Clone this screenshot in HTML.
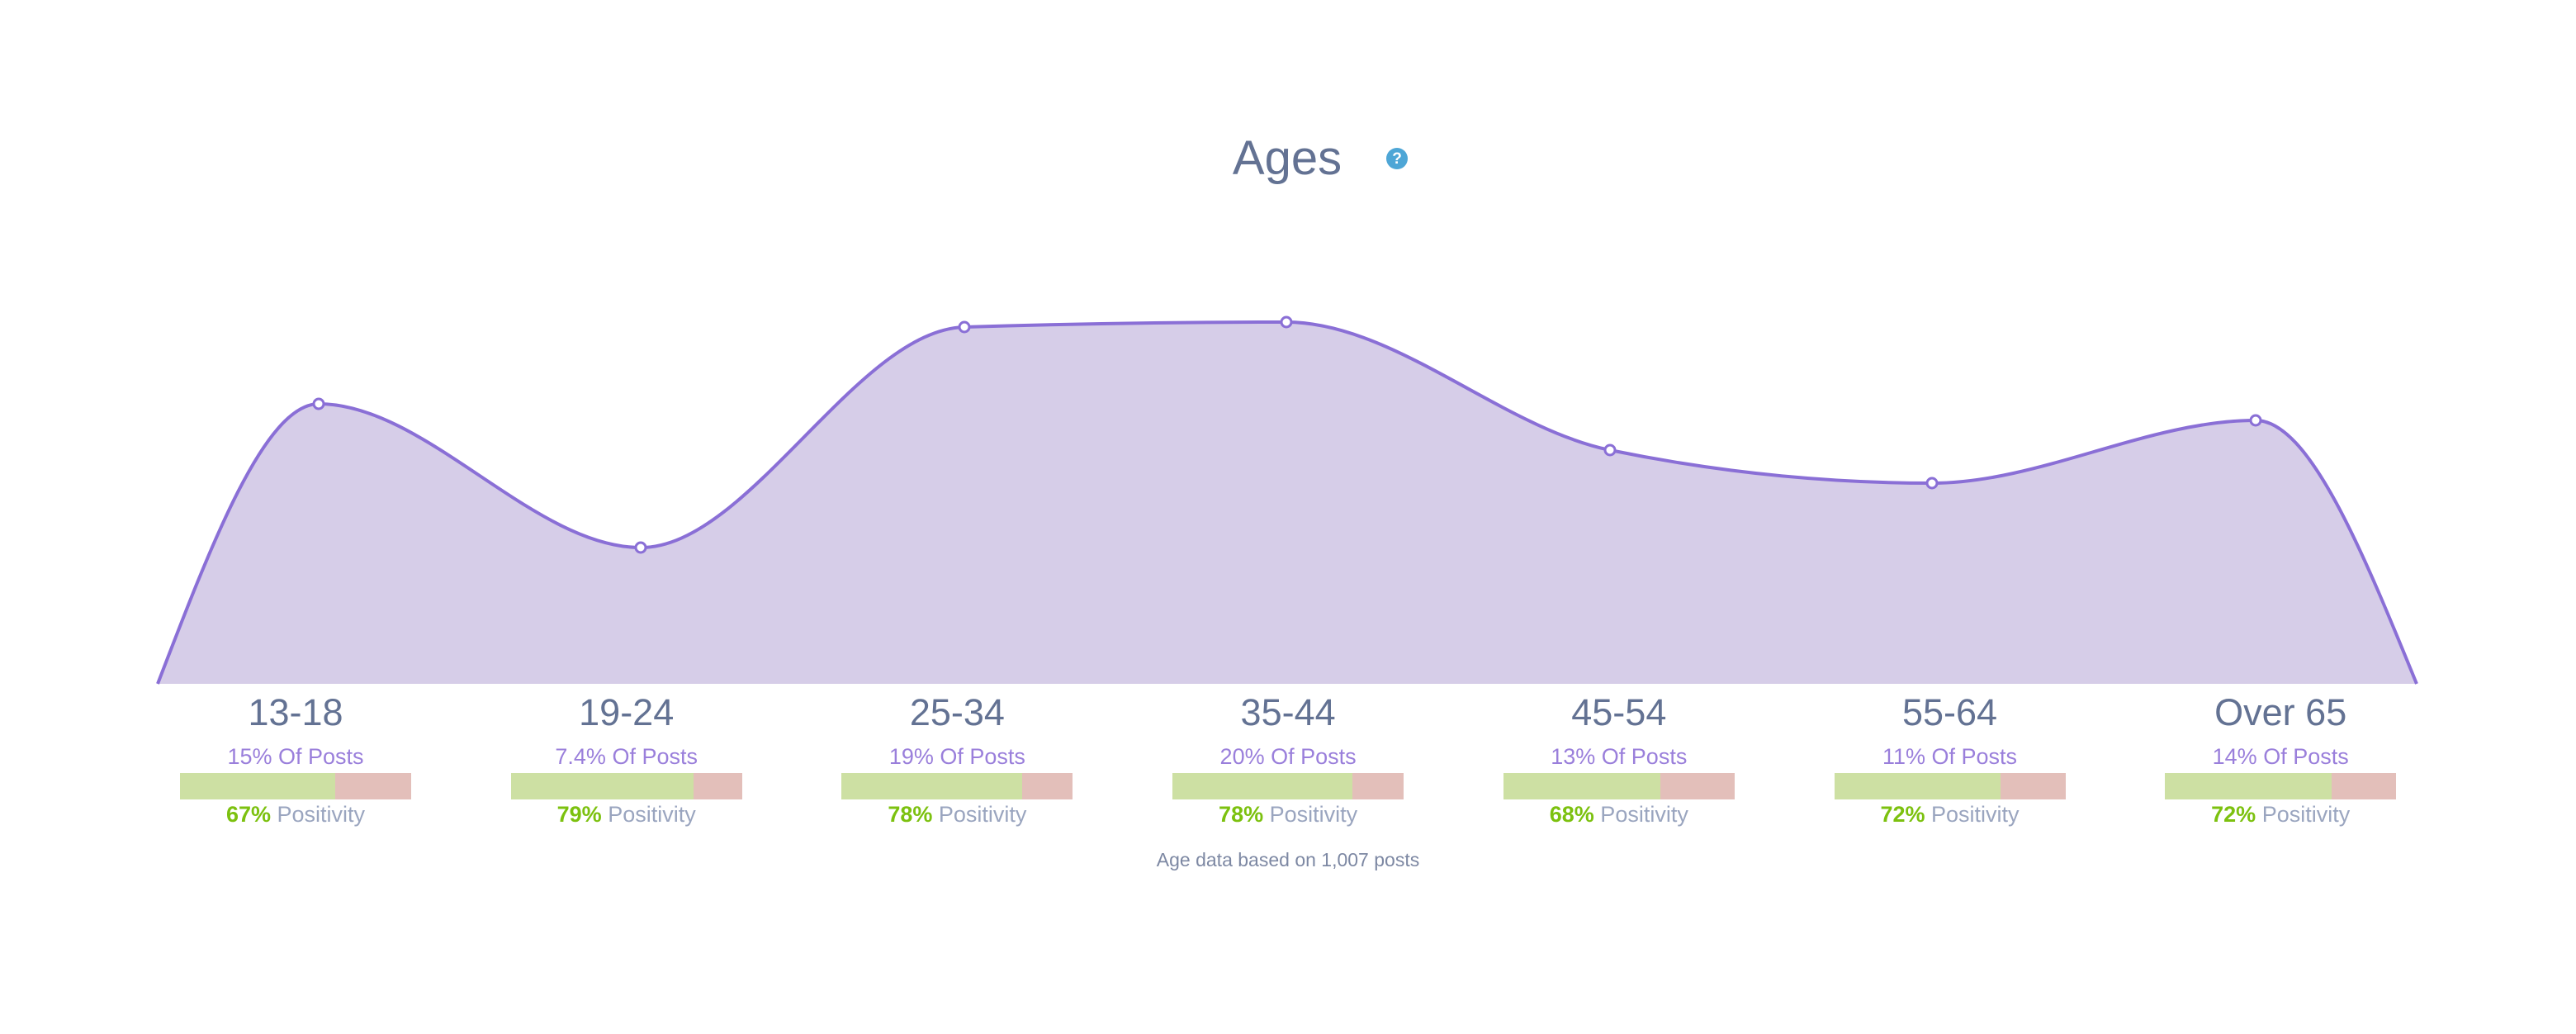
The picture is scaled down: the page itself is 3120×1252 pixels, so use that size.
<!DOCTYPE html>
<html><head><meta charset="utf-8"><style>
html,body{margin:0;padding:0;background:#fff;}
body{width:3120px;height:1252px;position:relative;overflow:hidden;font-family:"Liberation Sans",sans-serif;}
.t{position:absolute;white-space:nowrap;text-align:center;transform:translateX(-50%);font-weight:300;}
.bar{position:absolute;height:32px;width:280px;background:#e3bfba;}
.bar div{height:100%;background:#cde0a3;}
</style></head><body>
<div class="t" style="left:1559px;top:158px;font-size:58px;color:#637293;">Ages</div>
<div style="position:absolute;left:1679px;top:179px;width:26px;height:26px;border-radius:50%;background:#4ea6d6;color:#fff;font-size:19px;font-weight:bold;text-align:center;line-height:27px;">?</div>
<svg width="3120" height="1252" style="position:absolute;left:0;top:0" id="s"></svg>
<div id="labels"></div>
<div class="t" style="left:1560px;top:1028px;font-size:23px;color:#7d88a3;">Age data based on 1,007 posts</div>
<script>
var P=[[191,828],[386,489],[776,663],[1168,396],[1558,390],[1950,545],[2340,585],[2732,509],[2927,828]];
var n=P.length,t=[],s=[],h=[];
for(var i=0;i<n-1;i++){h[i]=P[i+1][0]-P[i][0];s[i]=(P[i+1][1]-P[i][1])/h[i];}
function sg(x){return x<0?-1:1;}
for(var i=1;i<n-1;i++){var s0=s[i-1],s1=s[i],p=(s0*h[i]+s1*h[i-1])/(h[i-1]+h[i]);t[i]=(sg(s0)+sg(s1))*Math.min(Math.abs(s0),Math.abs(s1),0.5*Math.abs(p))||0;}
t[0]=(3*s[0]-t[1])/2;t[n-1]=(3*s[n-2]-t[n-2])/2;
var d="M"+P[0][0]+","+P[0][1];
for(var i=0;i<n-1;i++){var dx=h[i]/3;d+="C"+(P[i][0]+dx)+","+(P[i][1]+dx*t[i])+" "+(P[i+1][0]-dx)+","+(P[i+1][1]-dx*t[i+1])+" "+P[i+1][0]+","+P[i+1][1];}
var svg='<path d="'+d+'Z" fill="#d6cde8"/><path d="'+d+'" fill="none" stroke="#8a6fd6" stroke-width="4"/>';
for(var i=1;i<n-1;i++)svg+='<circle cx="'+P[i][0]+'" cy="'+P[i][1]+'" r="6" fill="#fff" stroke="#8a6fd6" stroke-width="3"/>';
document.getElementById('s').innerHTML=svg;
var L=["13-18","19-24","25-34","35-44","45-54","55-64","Over 65"],Q=["15%","7.4%","19%","20%","13%","11%","14%"],G=[67,79,78,78,68,72,72],h2="";
for(var i=0;i<7;i++){var c=358+400.7*i;
h2+='<div class="t" style="left:'+c+'px;top:837px;font-size:45px;color:#637293;">'+L[i]+'</div>';
h2+='<div class="t" style="left:'+c+'px;top:901px;font-size:27px;color:#9a7fdb;">'+Q[i]+' Of Posts</div>';
h2+='<div class="bar" style="left:'+(c-140)+'px;top:936px;"><div style="width:'+G[i]+'%"></div></div>';
h2+='<div class="t" style="left:'+c+'px;top:971px;font-size:27px;color:#9aa5bf;"><b style="color:#7cc10f;font-weight:bold">'+G[i]+'%</b> Positivity</div>';}
document.getElementById('labels').innerHTML=h2;
</script>
</body></html>
